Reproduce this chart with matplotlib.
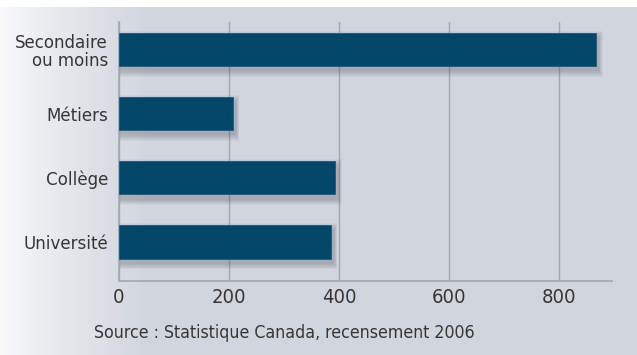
import numpy as np
import matplotlib.pyplot as plt
from matplotlib.colors import to_rgb

# Data
categories = ["Secondaire\nou moins", "Métiers", "Collège", "Université"]
values = [867, 207, 393, 385]
ticks = [0, 200, 400, 600, 800]

plt.rcParams['font.family'] = ['DejaVu Sans']
plt.rcParams['font.stretch'] = 'condensed'

fig = plt.figure(figsize=(6.37, 3.55), dpi=100)

# backdrop: grey panel fading to white on the left, white strip on top
bg = fig.add_axes([0, 0, 1, 1])
H, W = 355, 637
grey = np.array(to_rgb("#d1d5dd"))
white = np.array(to_rgb("#fbfbfc"))
xs = np.linspace(0, 1, W)
t = np.clip(xs * W / 150.0, 0, 1) ** 0.8
row = white[None, :] * (1 - t[:, None]) + grey[None, :] * t[:, None]
img = np.repeat(row[None, :, :], H, axis=0)
img[:7] = 1.0
bg.imshow(img, aspect='auto', extent=[0, 1, 0, 1], origin='upper')
bg.axis('off')

ax = fig.add_axes([119 / 637, 1 - 281 / 355, (612 - 119) / 637, 259 / 355])
ax.patch.set_visible(False)

y = np.arange(len(categories))
bar_h = 0.52

# soft shadow under each bar
for k in range(7):
    ax.barh(y + 0.07, np.array(values) + 4 + k * 1.5, height=bar_h + 0.02 + k * 0.03,
            left=2 - k * 0.5, color="#3a4150", alpha=0.045, zorder=2, linewidth=0)

ax.barh(y, values, height=bar_h, color="#02466a", edgecolor="#1d5a7c",
        linewidth=0.6, zorder=3)

ax.set_xlim(0, 896)
ax.set_ylim(3.61, -0.43)
ax.set_xticks(ticks)
ax.set_yticks(y)
ax.set_yticklabels(categories, fontsize=13.3, color="#363636", linespacing=1.0)
ax.set_xticklabels([str(v) for v in ticks], fontsize=14.5, color="#363636")
ax.tick_params(axis='both', length=0)
ax.tick_params(axis='y', pad=8)
ax.tick_params(axis='x', pad=5)

ax.grid(axis='x', color="#a3a7b0", linewidth=1.0, zorder=1)
ax.set_axisbelow(True)
for side in ['top', 'right']:
    ax.spines[side].set_visible(False)
for side in ['left', 'bottom']:
    ax.spines[side].set_color("#a3a7b0")
    ax.spines[side].set_linewidth(1.2)

fig.text(94 / 637, 1 - 333 / 355, "Source : Statistique Canada, recensement 2006",
         fontsize=12.7, color="#363636", va='center', ha='left')

fig.savefig("out.png", dpi=100)
